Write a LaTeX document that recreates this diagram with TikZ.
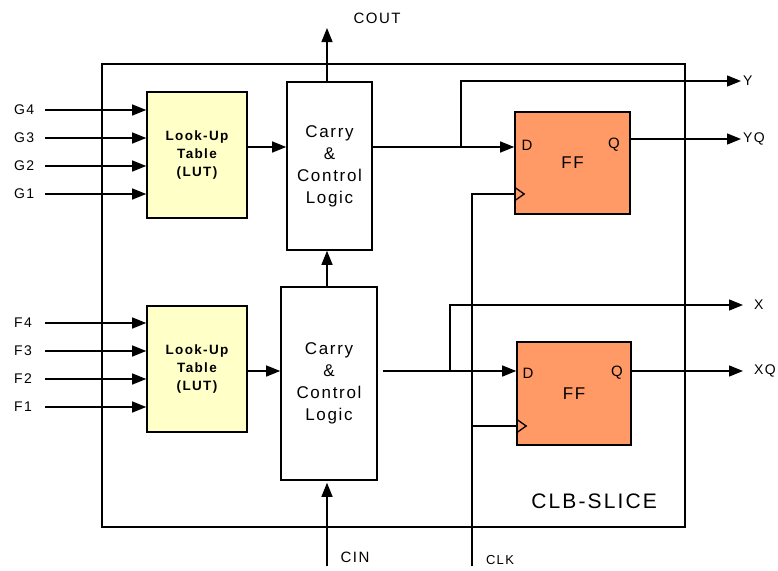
\documentclass[tikz,border=0pt]{standalone}
\usepackage{fontspec}
\setmainfont{Liberation Sans}
\newfontfamily\spaced[LetterSpace=10]{Liberation Sans}
\usepackage{tikz}
\usetikzlibrary{positioning, arrows.meta}
\definecolor{lutfill}{RGB}{255,255,200}
\definecolor{fffill}{RGB}{255,153,102}

\begin{document}
\begin{tikzpicture}[x=1pt, y=-1pt,
        box/.style={draw, rectangle, line width=1.6pt, inner sep=0pt, align=center, font=\spaced\fontsize{17}{22}\selectfont},
        lut/.style={box, fill=lutfill, minimum width=100pt, minimum height=126pt, font=\spaced\bfseries\fontsize{13.5}{18}\selectfont},
        ffbox/.style={box, fill=fffill, minimum width=115pt, minimum height=102pt, font=\spaced\fontsize{17}{20}\selectfont},
        pinlbl/.style={inner sep=0pt, font=\spaced\fontsize{15}{16}\selectfont},
        io/.style={inner sep=2pt, font=\spaced\fontsize{14}{16}\selectfont},
        wire/.style={line width=1.3pt},
        arr/.style={wire, -{Triangle[length=14pt, width=11pt]}}
    ]
    \useasboundingbox (0,0) rectangle (778,570);

    % CLB slice frame
    \node[draw, line width=1.8pt, minimum width=583pt, minimum height=463pt, inner sep=0pt] (slice) at (393.5,295.5) {};
    \node[inner sep=0pt, anchor=base east, font=\spaced\fontsize{21}{24}\selectfont] (slicename) at (657,508) {CLB-SLICE};

    % Look-up tables
    \node[lut] (lutg) at (197,155) {Look-Up\\Table\\(LUT)};
    \node[lut] (lutf) at (197,369) {Look-Up\\Table\\(LUT)};

    % Carry logic
    \node[box, minimum width=85pt, minimum height=168pt] (cc1) at (329.5,166) {Carry\\\&\\Control\\Logic};
    \node[box, minimum width=96pt, minimum height=193pt] (cc2) at (329,383.5) {Carry\\\&\\Control\\Logic};

    % Flip-flops
    \node[ffbox] (ffy) at (572.5,163) {FF};
    \node[ffbox, minimum width=114pt, minimum height=103pt] (ffx) at (574,393.5) {FF};
    \node[pinlbl] (dy) at (527,145) {D};
    \node[pinlbl] (qy) at (614,145) {Q};
    \node[pinlbl] (dx) at (528,373) {D};
    \node[pinlbl] (qx) at (617,373) {Q};

    % Inputs
    \foreach \n/\yy in {4/110,3/138,2/166,1/194}{
        \node[io, anchor=west, inner sep=0pt] (g\n) at (14,\yy) {G\n};
        \coordinate (gin\n) at (45,\yy);
        \draw[arr] (gin\n) -- (gin\n -| lutg.west);
    }
    \foreach \n/\yy in {4/323,3/351,2/379,1/407}{
        \node[io, anchor=west, inner sep=0pt] (f\n) at (14,\yy) {F\n};
        \coordinate (fin\n) at (45,\yy);
        \draw[arr] (fin\n) -- (fin\n -| lutf.west);
    }

    % Outputs
    \node[io, anchor=west] (yout) at (741,81) {Y};
    \node[io, anchor=west] (yq) at (741,139) {YQ};
    \node[io, anchor=west] (xout) at (752,305) {X};
    \node[io, anchor=west] (xq) at (752,371) {XQ};
    \node[io, font=\spaced\fontsize{15}{16}\selectfont] (coutlbl) at (377,18) {COUT};
    \node[io, font=\spaced\fontsize{15}{16}\selectfont] (cinlbl) at (355,557) {CIN};
    \node[io, font=\spaced\fontsize{13}{14}\selectfont] (clklbl) at (500,560) {CLK};

    \coordinate (ysplit) at (461,147);
    \coordinate (xsplit) at (450,371);
    \coordinate (cout) at (327,28);
    \coordinate (cin) at (327,566);
    \coordinate (clk) at (472,566);
    \coordinate (clkx) at (472,426);

    % Carry chain
    \draw[arr] (cout |- cc1.north) -- (cout);
    \draw[arr] (cout |- cc2.north) -- (cout |- cc1.south);
    \draw[arr, shorten >=2pt] (cin) -- (cin |- cc2.south);

    % LUT to carry
    \draw[arr] (lutg.east |- ysplit) -- (cc1.west |- ysplit);
    \draw[arr] (lutf.east |- xsplit) -- (cc2.west |- xsplit);

    % Carry to flip-flops
    \draw[arr] (ysplit -| cc1.east) -- (ysplit -| ffy.west);
    \draw[arr] (ysplit) |- (yout.west);
    \draw[arr, shorten <=5pt] (xsplit -| cc2.east) -- (xsplit -| ffx.west);
    \draw[arr, shorten >=9pt] (xsplit) |- (xout.west);
    \draw[arr] (ffy.east |- yq) -- (yq.west);
    \draw[arr, shorten >=9pt] (ffx.east |- xq) -- (xq.west);

    % Clock
    \draw[wire] (clk) |- (ffy.west |- 0,194);
    \draw[wire] (clkx) -- (clkx -| ffx.west);
    \draw[wire] ([yshift=7pt]ffy.west |- 0,194) -- ++(10,7) -- ++(-10,7);
    \draw[wire] ([yshift=7pt]clkx -| ffx.west) -- ++(10,7) -- ++(-10,7);

\end{tikzpicture}
\end{document}
